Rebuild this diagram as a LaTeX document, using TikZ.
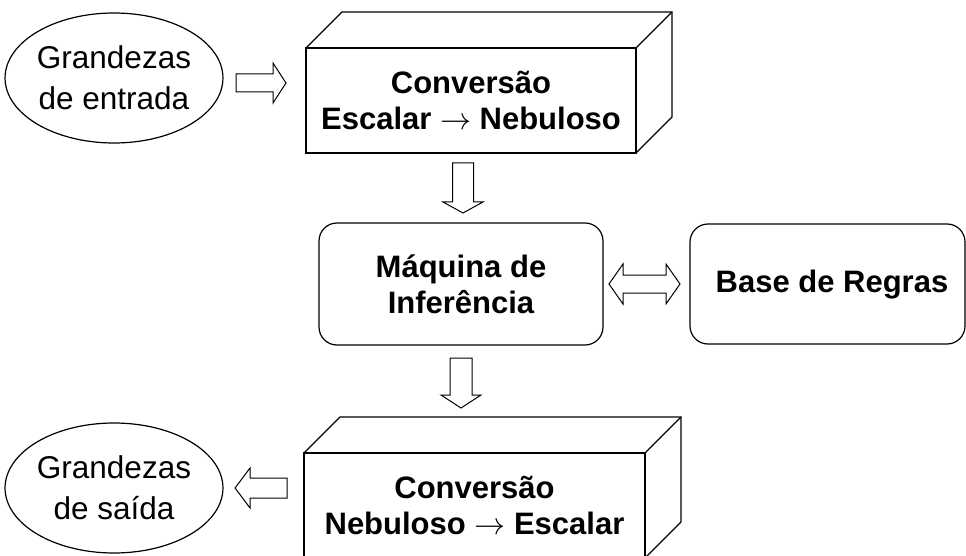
\RequirePackage{fix-cm}
\documentclass[tikz,border=0pt]{standalone}
\usepackage{fontspec}
\setmainfont{Liberation Sans}
\usetikzlibrary{shapes.geometric}
\begin{document}
\begin{tikzpicture}[x=1pt,y=-1pt, line width=1.2pt, line join=miter,
  ell/.style={draw, ellipse, minimum width=202pt, minimum height=130pt, inner sep=0pt, align=center, font=\fontsize{31.5}{41}\selectfont},
  rbox/.style={draw, rounded corners=18pt, inner sep=0pt, outer sep=0pt, align=center, font=\bfseries\fontsize{31}{36}\selectfont},
  front/.style={draw, inner sep=0pt, outer sep=0pt, align=center, font=\bfseries\fontsize{31}{36}\selectfont},
  plaintext/.style={inner sep=0pt, align=center, font=\bfseries\fontsize{31}{36}\selectfont},
  barrow/.style={draw, line width=1pt}]
\useasboundingbox (0,0) rectangle (966,556);

% ellipses
\node[ell] (in) at (114,78) {Grandezas\\de entrada};
\node[ell] (out) at (114,488) {Grandezas\\de saída};

% 3D box: fuzzification
\node[front, minimum width=330pt, minimum height=105pt] (conv1) at (471,100.5) {Conversão\\Escalar $\rightarrow$ Nebuloso};
\draw (conv1.north west) -- ++(36,-36) -- ([shift={(36,-36)}]conv1.north east) -- ([shift={(36,-36)}]conv1.south east) -- (conv1.south east);
\draw (conv1.north east) -- ++(36,-36);

% inference and rules
\node[rbox, minimum width=284pt, minimum height=122pt] (inf) at (461,284) {Máquina de\\Inferência};
\node[rbox, minimum width=275pt, minimum height=120pt] (rules) at (827.5,284) {};
\node[plaintext] (rulestext) at (832,285) {Base de Regras};

% 3D box: defuzzification
\node[front, minimum width=341pt, minimum height=105pt] (conv2) at (474.5,505.5) {Conversão\\Nebuloso $\rightarrow$ Escalar};
\draw (conv2.north west) -- ++(36,-36) -- ([shift={(36,-36)}]conv2.north east) -- ([shift={(36,-36)}]conv2.south east) -- (conv2.south east);
\draw (conv2.north east) -- ++(36,-36);

% hollow block arrows
\draw[barrow] (236,74) -- (273,74) -- (273,63) -- (286,83) -- (273,103) -- (273,92) -- (236,92) -- cycle;
\draw[barrow] (452.5,163) -- (473.5,163) -- (473.5,202) -- (483,202) -- (463,213) -- (443,202) -- (452.5,202) -- cycle;
\draw[barrow] (609,284) -- (623,264) -- (623,275) -- (666,275) -- (666,264) -- (680,284) -- (666,304) -- (666,293) -- (623,293) -- (623,304) -- cycle;
\draw[barrow] (450,358) -- (472,358) -- (472,395) -- (481,395) -- (461,408) -- (441,395) -- (450,395) -- cycle;
\draw[barrow] (235,488) -- (250,468) -- (250,478) -- (287,478) -- (287,498) -- (250,498) -- (250,508) -- cycle;
\end{tikzpicture}
\end{document}
